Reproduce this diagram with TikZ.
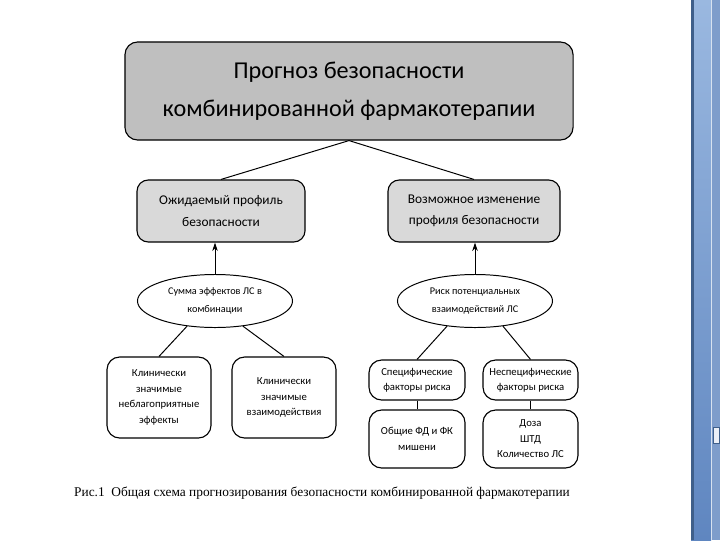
\documentclass[tikz,border=0pt]{standalone}
\usepackage{fontspec}
\setmainfont{Carlito}
\newfontfamily\capfont{Liberation Serif}
\usetikzlibrary{arrows.meta,shapes.geometric}
\definecolor{BoxDark}{HTML}{BFBFBF}
\definecolor{BoxLight}{HTML}{D9D9D9}
\definecolor{BarEdge}{HTML}{3F5F8A}
\definecolor{BarTop}{HTML}{9AB8E0}
\definecolor{BarBot}{HTML}{5F86C0}
\definecolor{BarSide}{HTML}{7E9DCB}

\begin{document}
\begin{tikzpicture}[x=0.025cm, y=-0.025cm,
  box/.style={draw, line width=0.8pt, rounded corners=#1, align=center,
              inner sep=0pt},
  box/.default=10pt,
  oval/.style={draw, ellipse, line width=0.7pt, minimum width=3.875cm,
               minimum height=1.325cm, inner sep=0pt, align=center,
               font=\fontsize{7.3}{12.5}\selectfont},
  small/.style={box=9pt, font=\fontsize{7.6}{11}\selectfont},
  con/.style={line width=0.7pt},
  arr/.style={-{Stealth[length=6pt, width=4pt]}, line width=0.7pt}
]
\useasboundingbox (0,0) rectangle (720,540);
\fill[white] (0,0) rectangle (720,540);

% Top box
\node[box=9pt, fill=BoxDark, minimum width=11.2cm, minimum height=2.45cm,
      font=\fontsize{17.2}{27}\selectfont] (top) at (349,91)
  {Прогноз безопасности\\комбинированной фармакотерапии};

% Second level
\node[box=8pt, fill=BoxLight, minimum width=4.2cm, minimum height=1.55cm,
      font=\fontsize{9.5}{15}\selectfont] (expect) at (221,211)
  {Ожидаемый профиль\\безопасности};
\node[box=8pt, fill=BoxLight, minimum width=4.3cm, minimum height=1.55cm,
      font=\fontsize{9.5}{15}\selectfont] (change) at (474,211)
  {Возможное изменение\\профиля безопасности};

% Ellipses
\node[oval] (sumell) at (215,301) {Сумма эффектов ЛС в\\комбинации};
\node[oval] (riskell) at (475,301) {Риск потенциальных\\взаимодействий ЛС};

% Bottom left boxes
\node[small, minimum width=2.6cm, minimum height=2.025cm] (clinae)
  at (159,397.5) {Клинически\\значимые\\неблагоприятные\\эффекты};
\node[small, minimum width=2.6cm, minimum height=2.025cm] (clinint)
  at (284,397.5) {Клинически\\значимые\\взаимодействия};

% Bottom right boxes
\node[small, minimum width=2.4cm, minimum height=1.0cm] (specrf)
  at (417,380) {Специфические\\факторы риска};
\node[small, minimum width=2.375cm, minimum height=1.0cm] (nonspecrf)
  at (530.5,380) {Неспецифические\\факторы риска};
\node[small, minimum width=2.4cm, minimum height=1.45cm] (common)
  at (417,439) {Общие ФД и ФК\\мишени};
\node[small, minimum width=2.375cm, minimum height=1.45cm] (dose)
  at (530.5,439) {Доза\\ШТД\\Количество ЛС};

% Connectors
\draw[con] (top.south) -- (expect.north);
\draw[con] (top.south) -- (change.north);
\draw[arr] (sumell.north) -- (sumell.north |- expect.south);
\draw[arr] (riskell.north) -- (riskell.north |- change.south);
\draw[con] (sumell.222) -- (clinae.north);
\draw[con] (sumell.318) -- (clinint.north);
\draw[con] (riskell.222) -- (specrf.north);
\draw[con] (riskell.318) -- (nonspecrf.north);
\draw[con] (specrf.south) -- (common.north);
\draw[con] (nonspecrf.south) -- (dose.north);

% Caption
\node[font=\capfont\fontsize{9.5}{12}\selectfont] (caption) at (322,493)
  {Рис.1\ \ Общая схема прогнозирования безопасности комбинированной фармакотерапии};

% Scroll bar
\shade[top color=BarTop, bottom color=BarBot] (691,0) rectangle (711,540);
\fill[BarEdge] (691,0) rectangle (694,540);
\fill[BarSide] (711,0) rectangle (720,540);
\draw[white!70!BarSide, line width=0.6pt] (711,0) -- (711,540);
\draw[BarEdge, fill=white!85!BarSide, line width=0.4pt] (713,427) rectangle (719,443);
\end{tikzpicture}
\end{document}
